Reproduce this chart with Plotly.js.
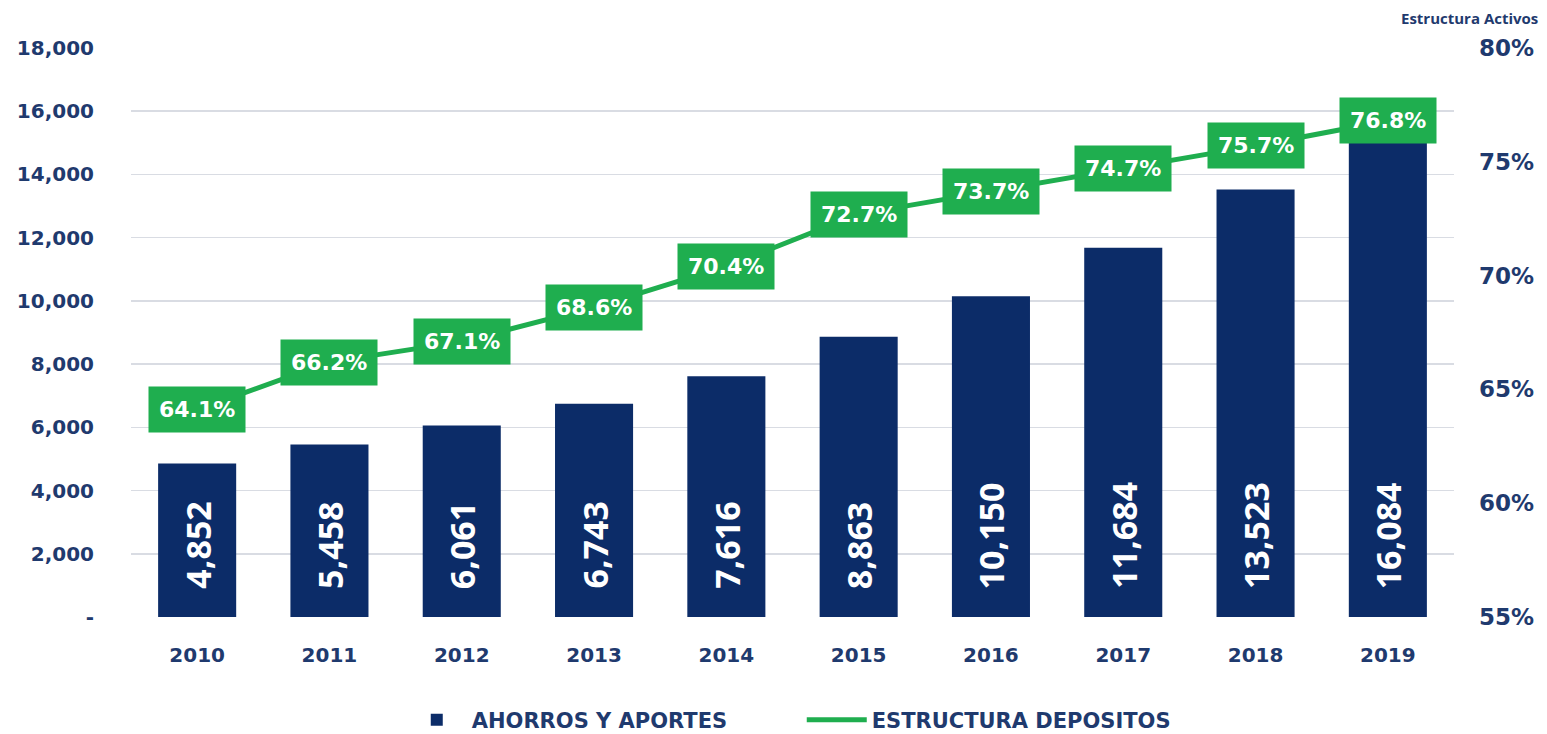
<!DOCTYPE html>
<html>
<head>
<meta charset="utf-8">
<script src="https://cdn.plot.ly/plotly-3.0.1.min.js"></script>
<style>html,body{margin:0;padding:0;background:#fff;}#chart{width:1547px;height:734px;}</style>
</head>
<body>
<div id="chart"></div>
<script>
const years = ['2010','2011','2012','2013','2014','2015','2016','2017','2018','2019'];
const ahorros = [4852, 5458, 6061, 6743, 7616, 8863, 10150, 11684, 13523, 16084];
const estructura = [64.1, 66.2, 67.1, 68.6, 70.4, 72.7, 73.7, 74.7, 75.7, 76.8];
const leftTicks = [0, 2000, 4000, 6000, 8000, 10000, 12000, 14000, 16000, 18000];
const leftTickText = ['-', '2,000', '4,000', '6,000', '8,000', '10,000', '12,000', '14,000', '16,000', '18,000'];
const rightTicks = [55, 60, 65, 70, 75, 80];
const rightTickText = ['55%', '60%', '65%', '70%', '75%', '80%'];

const NAVY = '#0c2c68';
const GREEN = '#1fae4f';
const TXT = '#1f3a6e';

const fmt = v => v.toLocaleString('en-US');

const barTrace = {
  type: 'bar', x: years, y: ahorros, name: 'AHORROS Y APORTES',
  marker: {color: NAVY}, yaxis: 'y', hoverinfo: 'x+y'
};
const lineTrace = {
  type: 'scatter', mode: 'lines', x: years, y: estructura, name: 'ESTRUCTURA DEPOSITOS',
  line: {color: GREEN, width: 5}, yaxis: 'y2'
};

const annotations = [];
years.forEach((yr, i) => {
  // category axis: annotation x given as the category index
  annotations.push({
    x: i, y: 0, xref: 'x', yref: 'y', text: fmt(ahorros[i]),
    textangle: -90, showarrow: false, xanchor: 'center', yanchor: 'bottom', yshift: 26,
    font: {family: 'Open Sans', size: 34, color: '#ffffff', weight: 'bold'}
  });
  annotations.push({
    x: i, y: estructura[i], xref: 'x', yref: 'y2', text: estructura[i].toFixed(1) + '%',
    showarrow: false, xanchor: 'center', yanchor: 'middle',
    bgcolor: GREEN, borderpad: 10,
    font: {family: 'DejaVu Sans', size: 22, color: '#ffffff', weight: 'bold'}
  });
});
annotations.push({
  x: 1.012, y: 1.052, xref: 'paper', yref: 'paper', text: 'Estructura Activos',
  showarrow: false, xanchor: 'center', yanchor: 'middle',
  font: {family: 'Open Sans', size: 15, color: TXT, weight: 'bold'}
});

const layout = {
  width: 1547, height: 734,
  margin: {l: 131, r: 93, t: 48, b: 117, autoexpand: false},
  paper_bgcolor: '#ffffff', plot_bgcolor: '#ffffff',
  bargap: 0.41,
  showlegend: true,
  legend: {
    orientation: 'h', x: 0.507, xanchor: 'center', y: -0.145, yanchor: 'top',
    font: {family: 'DejaVu Sans', size: 21, color: TXT, weight: 'bold'},
    itemwidth: 60, entrywidth: 325, traceorder: 'normal'
  },
  xaxis: {
    type: 'category', range: [-0.5, 9.5], showgrid: false, zeroline: false, showline: false, ticks: '',
    ticklabelstandoff: 24,
    tickfont: {family: 'DejaVu Sans', size: 20, color: TXT, weight: 'bold'}
  },
  yaxis: {
    range: [0, 18000], tickvals: leftTicks, ticktext: leftTickText,
    showgrid: true, gridcolor: '#d9dce3', gridwidth: 1.5, zeroline: false, showline: false, ticks: '',
    ticklabelstandoff: 36,
    tickfont: {family: 'DejaVu Sans', size: 20, color: TXT, weight: 'bold'}
  },
  yaxis2: {
    overlaying: 'y', side: 'right', range: [55, 80], tickvals: rightTicks, ticktext: rightTickText,
    showgrid: false, zeroline: false, showline: false, ticks: '',
    ticklabelstandoff: 24,
    tickfont: {family: 'DejaVu Sans', size: 23, color: TXT, weight: 'bold'}
  },
  annotations: annotations
};

Plotly.newPlot('chart', [barTrace, lineTrace], layout, {displayModeBar: false, staticPlot: true});
</script>
</body>
</html>
